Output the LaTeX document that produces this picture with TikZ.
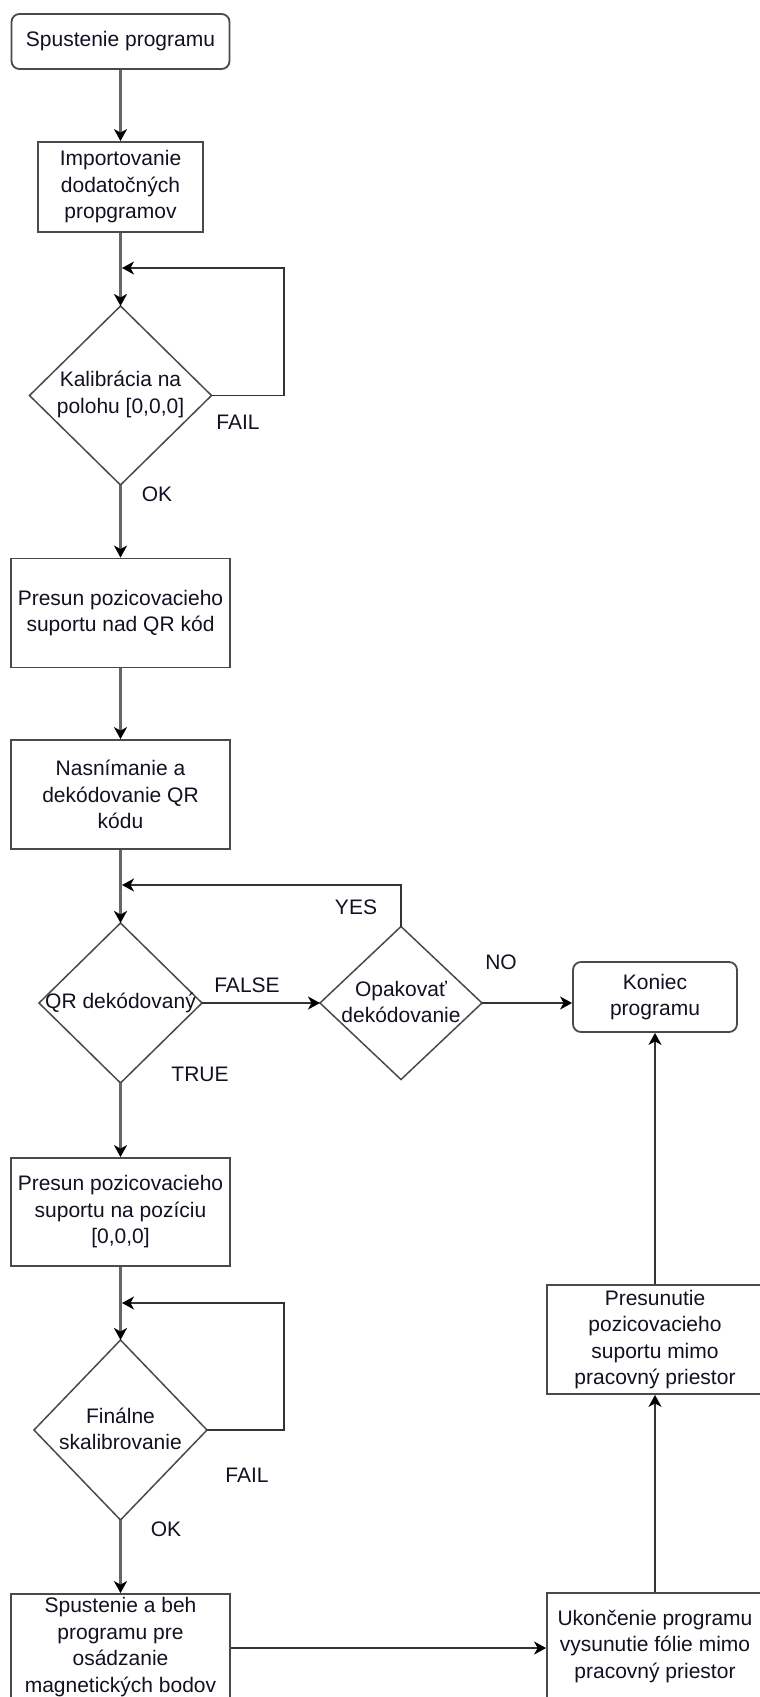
\documentclass[tikz,border=0pt]{standalone}
\usepackage{fontspec}
\setmainfont{Liberation Sans}
\usetikzlibrary{shapes.geometric,arrows.meta}
\definecolor{boxc}{HTML}{4A4A4A}
\definecolor{vlinec}{HTML}{666666}
\definecolor{tlinec}{HTML}{333333}
\definecolor{txtc}{HTML}{111122}
\begin{document}
\begin{tikzpicture}[x=1pt,y=-1pt,
  font=\fontsize{21}{26.5}\selectfont,
  every node/.style={text=txtc},
  box/.style={draw=boxc,line width=1.8pt,fill=white,align=center,inner sep=2pt},
  rbox/.style={box,rounded corners=8pt},
  dia/.style={draw=boxc,line width=1.5pt,fill=white,shape=diamond,inner sep=0pt,outer sep=0pt},
  dtext/.style={align=center,inner sep=0pt},
  tip/.style={-{Stealth[length=12pt,width=13pt,inset=3.5pt,color=black]}},
  vline/.style={tip,draw=vlinec,line width=2.4pt},
  tline/.style={tip,draw=tlinec,line width=1.5pt},
  lbl/.style={inner sep=0pt}]
\useasboundingbox (0,0) rectangle (760,1697);
\clip (0,0) rectangle (760,1697);

% nodes
\node[rbox,minimum width=218,minimum height=55] (start) at (120.5,41.5) {Spustenie programu};
\node[box,minimum width=165,minimum height=90] (import) at (120.5,187) {Importovanie\\dodatočných\\propgramov};
\node[dia,minimum width=182,minimum height=179] (d1) at (120.5,395.5) {};
\node[dtext] (d1t) at (120.5,394.5) {Kalibrácia na\\polohu [0,0,0]};
\node[box,minimum width=219,minimum height=109] (b3) at (120.5,613) {Presun pozicovacieho\\suportu nad QR kód};
\node[box,minimum width=219,minimum height=109] (b4) at (120.5,794.5) {Nasnímanie a\\dekódovanie QR\\kódu};
\node[dia,minimum width=163,minimum height=160] (d2) at (120.5,1003) {};
\node[dtext] (d2t) at (120.5,1002.5) {QR dekódovaný};
\node[dia,minimum width=162,minimum height=153] (d3) at (401,1003) {};
\node[dtext] (d3t) at (401,1002) {Opakovať\\dekódovanie};
\node[rbox,minimum width=164,minimum height=70] (kon) at (655,997) {Koniec\\programu};
\node[box,minimum width=219,minimum height=108] (b5) at (120.5,1212) {Presun pozicovacieho\\suportu na pozíciu\\{[0,0,0]}};
\node[dia,minimum width=173,minimum height=180] (d4) at (120.5,1430) {};
\node[dtext] (d4t) at (120.5,1429) {Finálne\\skalibrovanie};
\node[box,minimum width=219,minimum height=106] (b6) at (120.5,1647) {Spustenie a beh\\programu pre\\osádzanie\\magnetických bodov};
\node[box,minimum width=216,minimum height=109] (b7) at (655,1339.5) {Presunutie\\pozicovacieho\\suportu mimo\\pracovný priestor};
\node[box,minimum width=216,minimum height=107] (b8) at (655,1646.5) {Ukončenie programu\\vysunutie fólie mimo\\pracovný priestor};

% loop coordinates
\coordinate (l1) at (122,268);
\coordinate (l1r) at (284,268);
\coordinate (l2) at (122,885);
\coordinate (l4) at (122,1303);
\coordinate (l4r) at (284,1303);

% connectors
\draw[vline] (start.south) -- (import.north);
\draw[vline] (import.south) -- (d1.north);
\draw[tline] (d1.east) -- (d1.east -| l1r) -- (l1r) -- (l1);
\draw[vline] (d1.south) -- (b3.north);
\draw[vline] (b3.south) -- (b4.north);
\draw[vline] (b4.south) -- (d2.north);
\draw[tline] (d2.east) -- (d3.west);
\draw[tline] (d3.north) -- (d3.north |- l2) -- (l2);
\draw[tline] (d3.east) -- (d3.east -| kon.west);
\draw[vline] (d2.south) -- (b5.north);
\draw[vline] (b5.south) -- (d4.north);
\draw[tline] (d4.east) -- (d4.east -| l4r) -- (l4r) -- (l4);
\draw[vline] (d4.south) -- (b6.north);
\draw[tline] (b6.east |- 0,1648) -- (b8.west |- 0,1648);
\draw[tline] (b8.north) -- (b7.south);
\draw[tline] (b7.north) -- (kon.south);

% labels
\node[lbl] (fail1) at (238,422) {FAIL};
\node[lbl] (ok1) at (157,494) {OK};
\node[lbl] (yes) at (356,907) {YES};
\node[lbl] (false) at (247,985) {FALSE};
\node[lbl] (no) at (501,962) {NO};
\node[lbl] (true) at (200,1074) {TRUE};
\node[lbl] (fail2) at (247,1475) {FAIL};
\node[lbl] (ok2) at (166,1529) {OK};
\end{tikzpicture}
\end{document}
